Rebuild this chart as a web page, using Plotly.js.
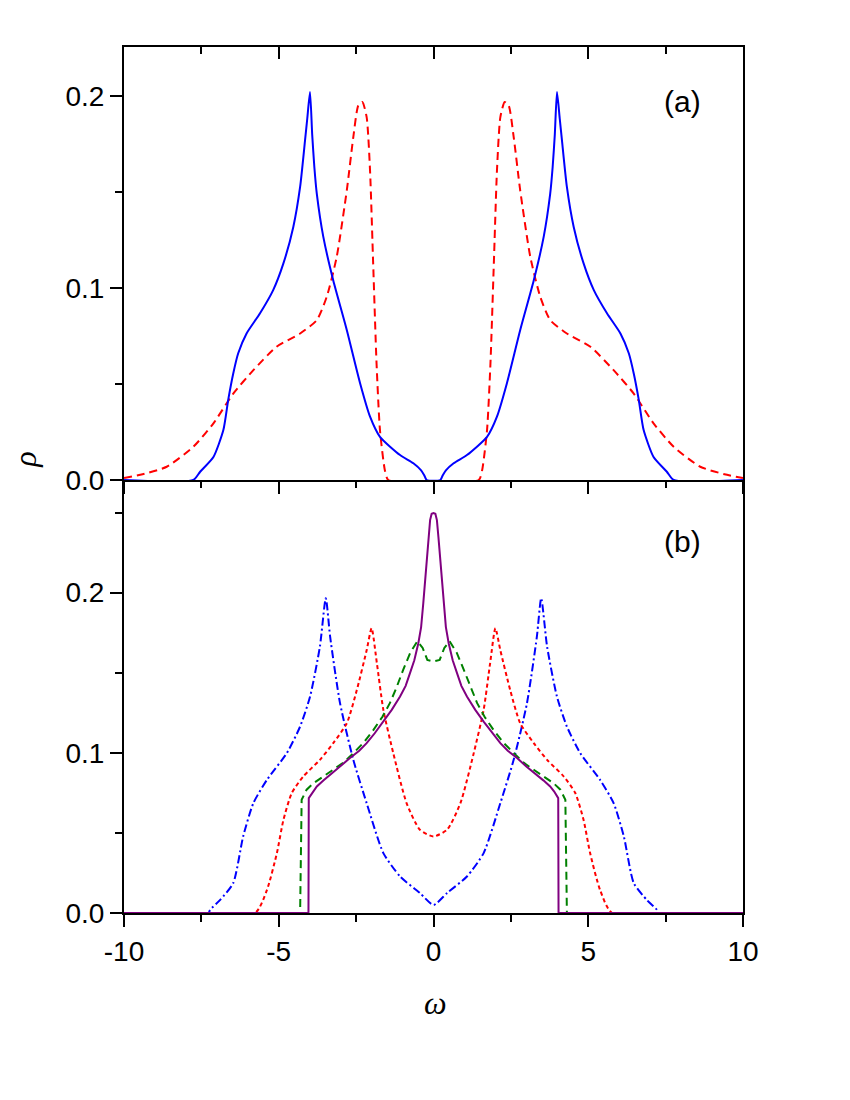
<!DOCTYPE html>
<html>
<head>
<meta charset="utf-8">
<script src="https://cdn.plot.ly/plotly-3.0.1.min.js"></script>
<style>html,body{margin:0;padding:0;background:#fff;}</style>
</head>
<body>
<div id="chart" style="width:850px;height:1100px;"></div>
<script>
// ---------- Panel (a) ----------
const xA_blue = [-10, -7.76, -7.54, -7.11, -6.79, -6.63, -6.47, -6.31, -6.04, -5.61, -5.18, -4.85, -4.53, -4.31, -4.15, -4.08, -3.99, -3.92, -3.85, -3.77, -3.56, -3.24, -2.80, -2.37, -2.05, -1.73, -1.08, -0.65, -0.40, -0.30, -0.22,
                 0.22, 0.30, 0.40, 0.65, 1.08, 1.73, 2.05, 2.37, 2.80, 3.24, 3.56, 3.77, 3.85, 3.92, 3.99, 4.08, 4.15, 4.31, 4.53, 4.85, 5.18, 5.61, 6.04, 6.31, 6.47, 6.63, 6.79, 7.11, 7.54, 7.76, 10];
const yA_blue = [0, 0, 0.0043, 0.012, 0.026, 0.042, 0.0555, 0.066, 0.0763, 0.0867, 0.0989, 0.1128, 0.1318, 0.1526, 0.177, 0.188, 0.202, 0.180, 0.163, 0.149, 0.1266, 0.104, 0.078, 0.0503, 0.033, 0.0225, 0.013, 0.0087, 0.005, 0.0025, 0,
                 0, 0.0025, 0.005, 0.0087, 0.013, 0.0225, 0.033, 0.0503, 0.078, 0.104, 0.1266, 0.149, 0.163, 0.180, 0.202, 0.188, 0.177, 0.1526, 0.1318, 0.1128, 0.0989, 0.0867, 0.0763, 0.066, 0.0555, 0.042, 0.026, 0.012, 0.0043, 0, 0];

const xA_red = [-10, -9.4, -8.62, -7.76, -7.11, -6.47, -5.82, -5.07, -4.31, -3.77, -3.45, -3.13, -2.80, -2.59, -2.43, -2.30, -2.16, -2.05, -1.95, -1.84, -1.73, -1.57, -1.46,
                1.46, 1.57, 1.73, 1.84, 1.95, 2.05, 2.16, 2.30, 2.43, 2.59, 2.80, 3.13, 3.45, 3.77, 4.31, 5.07, 5.82, 6.47, 7.11, 7.76, 8.62, 9.4, 10];
const yA_red = [0.001, 0.003, 0.0069, 0.0173, 0.0295, 0.045, 0.0572, 0.0694, 0.0763, 0.0833, 0.0954, 0.116, 0.151, 0.1787, 0.195, 0.1969, 0.189, 0.161, 0.113, 0.0607, 0.026, 0.005, 0,
                0, 0.005, 0.026, 0.0607, 0.113, 0.161, 0.189, 0.1969, 0.195, 0.1787, 0.151, 0.116, 0.0954, 0.0833, 0.0763, 0.0694, 0.0572, 0.045, 0.0295, 0.0173, 0.0069, 0.003, 0.001];

// ---------- Panel (b) ----------
const xB_blue = [-10, -7.27, -7.22, -6.9, -6.47, -6.15, -5.82, -5.38, -4.74, -4.31, -3.99, -3.67, -3.48, -3.34, -3.02, -2.59, -2.16, -1.62, -1.08, -0.44, 0,
                 0.44, 1.08, 1.62, 2.16, 2.59, 3.02, 3.34, 3.48, 3.67, 3.99, 4.31, 4.74, 5.38, 5.82, 6.15, 6.47, 6.9, 7.22, 7.27, 10];
const yB_blue = [0, 0, 0.002, 0.008, 0.0187, 0.0478, 0.0686, 0.0832, 0.0998, 0.1164, 0.135, 0.1663, 0.1965, 0.1725, 0.131, 0.0956, 0.0686, 0.0374, 0.0228, 0.0125, 0.005,
                 0.0125, 0.0228, 0.0374, 0.0686, 0.0956, 0.131, 0.1725, 0.1965, 0.1663, 0.135, 0.1164, 0.0998, 0.0832, 0.0686, 0.0478, 0.0187, 0.008, 0.002, 0, 0];

const xB_red = [-10, -5.77, -5.38, -5.06, -4.85, -4.58, -4.21, -3.67, -3.24, -2.80, -2.48, -2.16, -2.00, -1.83, -1.62, -1.30, -0.87, -0.44, 0,
                0.44, 0.87, 1.30, 1.62, 1.83, 2.00, 2.16, 2.48, 2.80, 3.24, 3.67, 4.21, 4.58, 4.85, 5.06, 5.38, 5.77, 10];
const yB_red = [0, 0, 0.0145, 0.0374, 0.058, 0.0749, 0.0852, 0.0956, 0.106, 0.1185, 0.139, 0.164, 0.1778, 0.156, 0.1268, 0.0998, 0.0686, 0.052, 0.0478,
                0.052, 0.0686, 0.0998, 0.1268, 0.156, 0.1778, 0.164, 0.139, 0.1185, 0.106, 0.0956, 0.0852, 0.0749, 0.058, 0.0374, 0.0145, 0, 0];

const xB_green = [-10, -4.31, -4.26, -4.1, -3.88, -3.55, -3.24, -2.9, -2.59, -2.25, -1.94, -1.65, -1.41, -1.2, -0.98, -0.75, -0.52, -0.35, -0.2, 0,
                  0.2, 0.35, 0.52, 0.75, 0.98, 1.2, 1.41, 1.65, 1.94, 2.25, 2.59, 2.9, 3.24, 3.55, 3.88, 4.1, 4.26, 4.31, 10];
const yB_green = [0, 0, 0.0707, 0.077, 0.081, 0.0855, 0.0894, 0.094, 0.0998, 0.1065, 0.1143, 0.1225, 0.131, 0.1405, 0.1518, 0.1625, 0.1697, 0.1655, 0.158, 0.157,
                  0.158, 0.1655, 0.1697, 0.1625, 0.1518, 0.1405, 0.131, 0.1225, 0.1143, 0.1065, 0.0998, 0.094, 0.0894, 0.0855, 0.081, 0.077, 0.0707, 0, 0];

const xB_purple = [-10, -4.04, -4.03, -3.9, -3.77, -3.55, -3.34, -3.0, -2.70, -2.4, -2.16, -1.9, -1.62, -1.35, -1.08, -0.9, -0.76, -0.62, -0.49, -0.4, -0.33, -0.27, -0.22, -0.16, -0.11, -0.06, 0,
                   0.06, 0.11, 0.16, 0.22, 0.27, 0.33, 0.4, 0.49, 0.62, 0.76, 0.9, 1.08, 1.35, 1.62, 1.9, 2.16, 2.4, 2.70, 3.0, 3.34, 3.55, 3.77, 3.9, 4.03, 4.04, 10];
const yB_purple = [0, 0, 0.0717, 0.0758, 0.079, 0.0828, 0.0863, 0.0915, 0.0967, 0.1013, 0.106, 0.1122, 0.1195, 0.1268, 0.1351, 0.1418, 0.1497, 0.1578, 0.1684, 0.1785, 0.1934, 0.2065, 0.2204, 0.2345, 0.2453, 0.2492, 0.2497,
                   0.2492, 0.2453, 0.2345, 0.2204, 0.2065, 0.1934, 0.1785, 0.1684, 0.1578, 0.1497, 0.1418, 0.1351, 0.1268, 0.1195, 0.1122, 0.106, 0.1013, 0.0967, 0.0915, 0.0863, 0.0828, 0.079, 0.0758, 0.0717, 0, 0];

// tick labels
const xTickVals = [-10, -5, 0, 5, 10];
const xTickText = ['-10', '-5', '0', '5', '10'];
const xMinorVals = [-7.5, -2.5, 2.5, 7.5];
const yTickVals = [0, 0.1, 0.2];
const yTickText = ['0.0', '0.1', '0.2'];
const yMinorValsA = [0.05, 0.15];
const yMinorValsB = [0.05, 0.15, 0.25];

const traces = [
  {x: xA_red, y: yA_red, xaxis: 'x2', yaxis: 'y', mode: 'lines',
   line: {color: '#ff0000', width: 2, dash: '8px,5px', shape: 'spline', smoothing: 0.6}},
  {x: xA_blue, y: yA_blue, xaxis: 'x2', yaxis: 'y', mode: 'lines',
   line: {color: '#0000ff', width: 2, shape: 'spline', smoothing: 0.6}},
  {x: xB_blue, y: yB_blue, xaxis: 'x', yaxis: 'y2', mode: 'lines',
   line: {color: '#0000ff', width: 2, dash: '8px,3px,2px,3px', shape: 'spline', smoothing: 0.6}},
  {x: xB_red, y: yB_red, xaxis: 'x', yaxis: 'y2', mode: 'lines',
   line: {color: '#ff0000', width: 2, dash: '4px,3px', shape: 'spline', smoothing: 0.6}},
  {x: xB_green, y: yB_green, xaxis: 'x', yaxis: 'y2', mode: 'lines',
   line: {color: '#008000', width: 2, dash: '8px,5px'}},
  {x: xB_purple, y: yB_purple, xaxis: 'x', yaxis: 'y2', mode: 'lines',
   line: {color: '#800080', width: 2}},
  {x: [], y: [], xaxis: 'x3', yaxis: 'y', mode: 'lines', hoverinfo: 'skip'}
];

const axCommon = {
  showline: true, linewidth: 2, linecolor: 'black', showgrid: false, zeroline: false,
  tickwidth: 2, tickcolor: 'black', fixedrange: true, layer: 'below traces'
};

const layout = {
  width: 850, height: 1100,
  margin: {l: 124, r: 107, t: 47, b: 187},
  paper_bgcolor: '#ffffff', plot_bgcolor: '#ffffff',
  showlegend: false,
  font: {family: 'Liberation Sans, Arial, sans-serif', size: 28, color: '#000'},
  xaxis: Object.assign({}, axCommon, {
    domain: [0, 1], anchor: 'y2', range: [-10, 10], mirror: false,
    tickmode: 'array', tickvals: xTickVals, ticktext: xTickText,
    ticks: 'outside', ticklen: 12, tickfont: {size: 28},
    minor: {tickmode: 'array', tickvals: xMinorVals, ticks: 'outside', ticklen: 7, tickwidth: 2, tickcolor: 'black'}
  }),
  xaxis2: Object.assign({}, axCommon, {
    domain: [0, 1], anchor: 'y', range: [-10, 10], mirror: true,
    tickmode: 'array', tickvals: xTickVals, showticklabels: false,
    ticks: 'outside', ticklen: 12,
    minor: {tickmode: 'array', tickvals: xMinorVals, ticks: 'outside', ticklen: 6, tickwidth: 2, tickcolor: 'black'}
  }),
  xaxis3: Object.assign({}, axCommon, {
    overlaying: 'x2', anchor: 'y', side: 'top', range: [-10, 10],
    tickmode: 'array', tickvals: xTickVals, showticklabels: false,
    ticks: 'inside', ticklen: 12,
    minor: {tickmode: 'array', tickvals: xMinorVals, ticks: 'inside', ticklen: 7, tickwidth: 2, tickcolor: 'black'}
  }),
  yaxis: Object.assign({}, axCommon, {
    domain: [0.5, 1], anchor: 'x2', range: [0, 0.2255], mirror: true,
    tickmode: 'array', tickvals: yTickVals, ticktext: yTickText,
    ticks: 'outside', ticklen: 12, tickfont: {size: 28},
    minor: {tickmode: 'array', tickvals: yMinorValsA, ticks: 'outside', ticklen: 7, tickwidth: 2, tickcolor: 'black'}
  }),
  yaxis2: Object.assign({}, axCommon, {
    domain: [0, 0.5], anchor: 'x', range: [0, 0.2703], mirror: true,
    tickmode: 'array', tickvals: yTickVals, ticktext: yTickText,
    ticks: 'outside', ticklen: 12, tickfont: {size: 28},
    minor: {tickmode: 'array', tickvals: yMinorValsB, ticks: 'outside', ticklen: 7, tickwidth: 2, tickcolor: 'black'}
  }),
  annotations: [
    {text: '(a)', xref: 'x2', yref: 'y', x: 8.06, y: 0.197, showarrow: false,
     xanchor: 'center', yanchor: 'middle',
     font: {family: 'Liberation Sans, Arial, sans-serif', size: 30}},
    {text: '(b)', xref: 'x', yref: 'y2', x: 8.03, y: 0.2316, showarrow: false,
     xanchor: 'center', yanchor: 'middle',
     font: {family: 'Liberation Sans, Arial, sans-serif', size: 30}},
    {text: '<i>ρ</i>', xref: 'paper', yref: 'paper', x: -0.159, y: 0.523, showarrow: false,
     xanchor: 'center', yanchor: 'middle',
     textangle: -90, font: {family: 'Liberation Serif, Times New Roman, serif', size: 32}},
    {text: '<i>ω</i>', xref: 'paper', yref: 'paper', x: 0.504, y: -0.104, showarrow: false,
     xanchor: 'center', yanchor: 'middle',
     font: {family: 'Liberation Serif, Times New Roman, serif', size: 32}}
  ]
};

Plotly.newPlot('chart', traces, layout, {displayModeBar: false, staticPlot: true});
</script>
</body>
</html>
